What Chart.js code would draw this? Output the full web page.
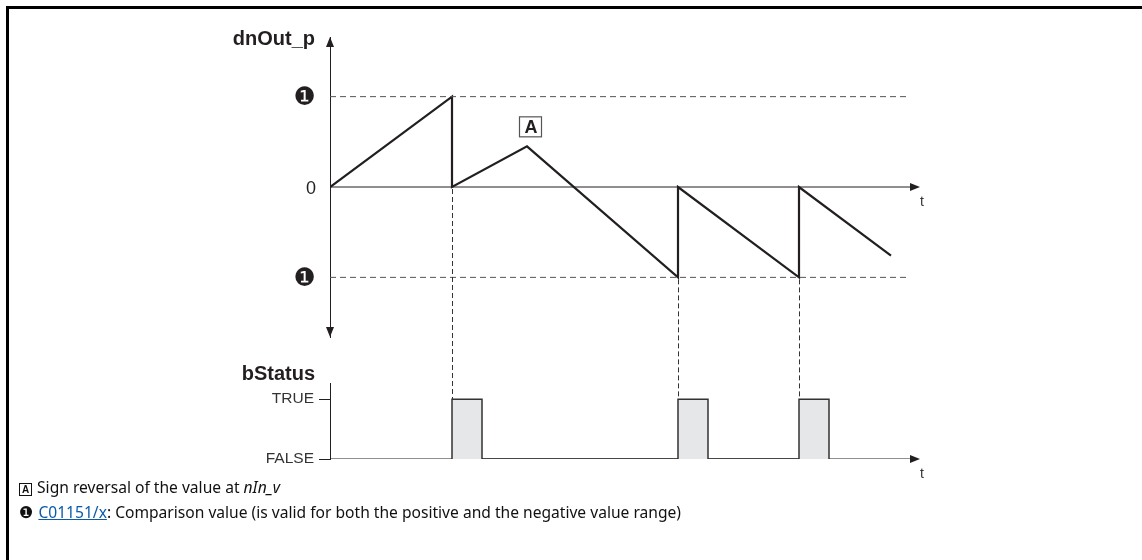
<!DOCTYPE html>
<html>
<head>
<meta charset="utf-8">
<script src="https://cdn.jsdelivr.net/npm/chart.js@4.4.1/dist/chart.umd.min.js"></script>
<style>
  html, body { margin: 0; padding: 0; background: #fff; }
  body { width: 1142px; height: 560px; position: relative; overflow: hidden; }
  canvas { position: absolute; left: 0; top: 0; }
  .frame { position: absolute; left: 6px; top: 6px; width: 1150px; height: 600px;
           border-left: 3px solid #000; border-top: 3px solid #000; }
  .notes { position: absolute; left: 19px; top: 475px; font-family: 'Noto Sans', sans-serif;
           font-size: 15.6px; line-height: 25px; color: #111; white-space: nowrap; }
  .boxA { display: inline-block; width: 11px; height: 11px; border: 1px solid #111;
          font: bold 10px 'Liberation Sans', sans-serif; line-height: 11px; text-align: center;
          vertical-align: 0px; margin-right: 1px; }
  .num { font-family: 'DejaVu Sans', sans-serif; font-size: 16px; margin-right: 1px; }
  .notes a { color: #0b5aa8; text-decoration: underline; }
</style>
</head>
<body>
<div class="frame"></div>
<canvas id="upperChart" width="1142" height="560"></canvas>
<canvas id="lowerChart" width="1142" height="560"></canvas>
<div class="notes">
  <div><span class="boxA">A</span> Sign reversal of the value at <i>nIn_v</i></div>
  <div><span class="num">❶</span> <a>C01151/x</a>: Comparison value (is valid for both the positive and the negative value range)</div>
</div>
<script>
// time axis
const tMax = 59;
const limitEnd = 57.6;

// dnOut_p signal
const dnOutT = [0, 12.2, 12.2, 19.7, 34.8, 34.8, 46.9, 46.9, 56.1];
const dnOutV = [0, 1, 0, 0.45, -1, 0, -1, 0, -0.76];
const compareValue = 1;
const dnTicks = [-1, 0, 1];
const dnTickLabels = ['❶', '0', '❶'];
const dnRange = [-1.66, 1.66];

// bStatus pulses
const statusRise = [12.2, 34.8, 46.9];
const pulseWidth = 3.0;
const statusTicks = [0, 1];
const statusTickLabels = ['FALSE', 'TRUE'];
const statusMax = 1.27;

const ink = '#231f20';

function arrow(ctx, x, y, dir) {
  const L = 10, W = 4;
  ctx.beginPath();
  if (dir === 'right') { ctx.moveTo(x, y); ctx.lineTo(x - L, y - W); ctx.lineTo(x - L, y + W); }
  if (dir === 'up') { ctx.moveTo(x, y); ctx.lineTo(x - W, y + L); ctx.lineTo(x + W, y + L); }
  if (dir === 'down') { ctx.moveTo(x, y); ctx.lineTo(x - W, y - L); ctx.lineTo(x + W, y - L); }
  ctx.closePath();
  ctx.fill();
}

const diagramPlugin = {
  id: 'diagram',
  afterDatasetsDraw(chart, args, opts) {
    const ctx = chart.ctx, area = chart.chartArea;
    const xs = chart.scales.x, ys = chart.scales.y;
    const yBase = ys.getPixelForValue(0);
    ctx.save();
    ctx.fillStyle = ink;
    arrow(ctx, area.right, yBase, 'right');
    if (opts.upArrow) arrow(ctx, area.left, area.top, 'up');
    if (opts.downArrow) arrow(ctx, area.left, area.bottom, 'down');

    ctx.font = 'bold 20px "Liberation Sans", Arial, sans-serif';
    ctx.textAlign = 'right';
    ctx.textBaseline = 'alphabetic';
    ctx.fillText(opts.title, area.left - 15, area.top + opts.titleOffset);

    ctx.font = '14px "Liberation Sans", Arial, sans-serif';
    ctx.fillStyle = '#333';
    ctx.textAlign = 'center';
    ctx.textBaseline = 'top';
    ctx.fillText('t', area.right + 2, yBase + 8);

    if (opts.marker) {
      const px = xs.getPixelForValue(dnOutT[opts.marker]);
      const py = ys.getPixelForValue(dnOutV[opts.marker]);
      const bx = px - 8, by = py - 30;
      ctx.fillStyle = '#fff';
      ctx.fillRect(bx, by, 23, 21);
      ctx.strokeStyle = '#555';
      ctx.lineWidth = 1.2;
      ctx.strokeRect(bx + 0.5, by + 0.5, 22, 20);
      ctx.fillStyle = ink;
      ctx.font = 'bold 18px "Liberation Sans", Arial, sans-serif';
      ctx.textBaseline = 'middle';
      ctx.fillText('A', bx + 12, by + 11.5);
    }
    ctx.restore();
  }
};

function line(points, extra) {
  return Object.assign({
    data: points, borderColor: ink, borderWidth: 1, pointRadius: 0, tension: 0, fill: false
  }, extra);
}

const upperChart = new Chart(document.getElementById('upperChart'), {
  type: 'line',
  data: {
    datasets: [
      line([{ x: 0, y: compareValue }, { x: limitEnd, y: compareValue }], { borderColor: '#555', borderDash: [6, 4] }),
      line([{ x: 0, y: -compareValue }, { x: limitEnd, y: -compareValue }], { borderColor: '#555', borderDash: [6, 4] }),
      line([{ x: 0, y: 0 }, { x: tMax - 1, y: 0 }]),
      line(dnOutT.map((t, i) => ({ x: t, y: dnOutV[i] })), { borderWidth: 2.2, borderJoinStyle: 'miter' })
    ]
  },
  options: {
    responsive: false,
    animation: false,
    layout: { padding: { left: 0, top: 37, right: 222, bottom: 223 } },
    plugins: {
      legend: { display: false },
      tooltip: { enabled: false },
      diagram: { title: 'dnOut_p', titleOffset: 8, upArrow: true, downArrow: true, marker: 3 }
    },
    scales: {
      x: { type: 'linear', min: 0, max: tMax, display: false },
      y: {
        min: dnRange[0], max: dnRange[1],
        afterFit: s => { s.width = 330; },
        afterBuildTicks: s => { s.ticks = dnTicks.map(v => ({ value: v })); },
        grid: { drawOnChartArea: false, drawTicks: false },
        border: { display: true, color: ink, width: 1 },
        ticks: {
          padding: 14,
          labelOffset: 2,
          color: ink,
          callback: v => dnTickLabels[dnTicks.indexOf(v)],
          font: c => (c.tick && c.tick.value === 0)
            ? { family: 'Liberation Sans', size: 18 }
            : { family: 'DejaVu Sans', size: 25 }
        }
      }
    }
  },
  plugins: [diagramPlugin]
});

const connectorPlugin = {
  id: 'connectors',
  beforeDatasetsDraw(chart) {
    const ctx = chart.ctx;
    const ux = upperChart.scales.x, uy = upperChart.scales.y;
    const yTrue = chart.scales.y.getPixelForValue(1);
    ctx.save();
    ctx.strokeStyle = '#333';
    ctx.lineWidth = 1;
    ctx.setLineDash([5, 3]);
    statusRise.forEach(t => {
      const low = Math.min(...dnOutT.map((tt, i) => tt === t ? dnOutV[i] : Infinity));
      const px = Math.round(ux.getPixelForValue(t)) + 0.5;
      ctx.beginPath();
      ctx.moveTo(px, uy.getPixelForValue(low) + 2);
      ctx.lineTo(px, yTrue);
      ctx.stroke();
    });
    ctx.restore();
  }
};

const statusPoints = [];
statusRise.forEach(t => {
  statusPoints.push({ x: t, y: 0 }, { x: t, y: 1 }, { x: t + pulseWidth, y: 1 }, { x: t + pulseWidth, y: 0 });
});

const lowerChart = new Chart(document.getElementById('lowerChart'), {
  type: 'line',
  data: {
    datasets: [
      line(statusPoints, { borderColor: '#333', borderWidth: 1.5, fill: 'origin', backgroundColor: '#e6e7e8' }),
      line([{ x: 0, y: 0 }, { x: tMax - 1, y: 0 }], { borderWidth: 1.2 })
    ]
  },
  options: {
    responsive: false,
    animation: false,
    layout: { padding: { left: 0, top: 383, right: 222, bottom: 101 } },
    plugins: {
      legend: { display: false },
      tooltip: { enabled: false },
      diagram: { title: 'bStatus', titleOffset: -3, upArrow: false, downArrow: false }
    },
    scales: {
      x: { type: 'linear', min: 0, max: tMax, display: false },
      y: {
        min: 0, max: statusMax,
        afterFit: s => { s.width = 330; },
        afterBuildTicks: s => { s.ticks = statusTicks.map(v => ({ value: v })); },
        grid: { drawOnChartArea: false, drawTicks: true, tickLength: 11, color: ink },
        border: { display: true, color: ink, width: 1 },
        ticks: {
          padding: 5,
          color: '#333',
          callback: v => statusTickLabels[statusTicks.indexOf(v)],
          font: { family: 'Liberation Sans', size: 15.5 }
        }
      }
    }
  },
  plugins: [diagramPlugin, connectorPlugin]
});
</script>
</body>
</html>
